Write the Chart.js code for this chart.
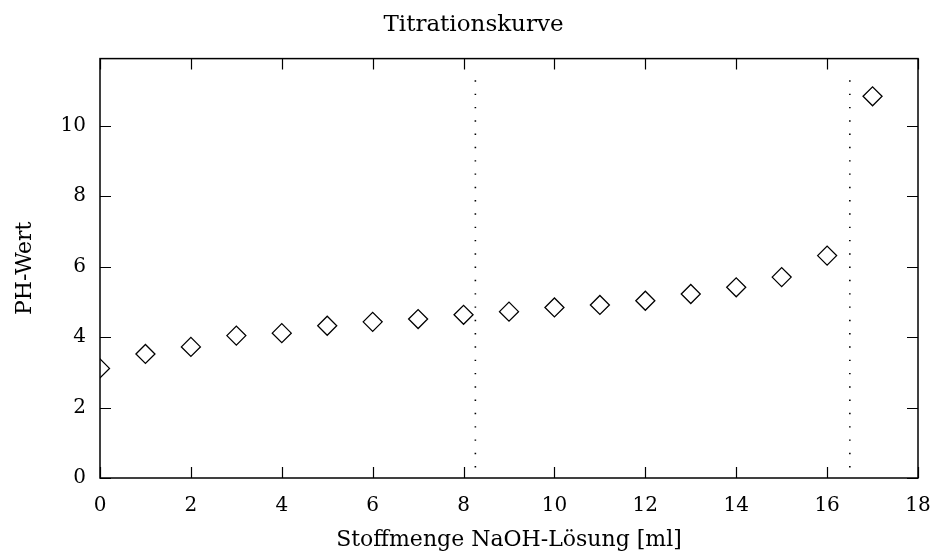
<!DOCTYPE html>
<html>
<head>
<meta charset="utf-8">
<script src="https://cdn.jsdelivr.net/npm/chart.js@4.4.0/dist/chart.umd.min.js"></script>
<style>
  html, body { margin: 0; padding: 0; background: #fff; }
  #wrap { width: 939px; height: 558px; }
</style>
</head>
<body>
<div id="wrap"><canvas id="myChart"></canvas></div>
<script>
// volume NaOH [ml] and measured pH
const volume = [0, 1, 2, 3, 4, 5, 6, 7, 8, 9, 10, 11, 12, 13, 14, 15, 16, 17];
const phValue = [3.11, 3.52, 3.72, 4.04, 4.11, 4.32, 4.43, 4.51, 4.63, 4.72, 4.84, 4.91, 5.03, 5.22, 5.41, 5.70, 6.31, 10.83];

// dotted marker lines (equivalence points)
const marker1X = [8.26, 8.26];
const marker2X = [16.5, 16.5];
const markerY = [0.3, 11.6];

const xTicks = [0, 2, 4, 6, 8, 10, 12, 14, 16, 18];
const yTicks = [0, 2, 4, 6, 8, 10];

const FONT = "'DejaVu Serif', serif";

function toPoints(xs, ys) {
  return xs.map((x, i) => ({x: x, y: ys[i]}));
}

// inner tick marks on all four sides + frame
const frameTicks = {
  id: 'frameTicks',
  afterDatasetsDraw(chart) {
    const ctx = chart.ctx;
    const a = chart.chartArea;
    const xs = chart.scales.x, ys = chart.scales.y;
    const len = 11;
    ctx.save();
    ctx.strokeStyle = '#000';
    ctx.lineWidth = 1.2;
    ctx.beginPath();
    xTicks.forEach(v => {
      const px = Math.round(xs.getPixelForValue(v)) + 0.5;
      ctx.moveTo(px, a.bottom); ctx.lineTo(px, a.bottom - len);
      ctx.moveTo(px, a.top); ctx.lineTo(px, a.top + len);
    });
    yTicks.forEach(v => {
      const py = Math.round(ys.getPixelForValue(v)) + 0.5;
      ctx.moveTo(a.left, py); ctx.lineTo(a.left + len, py);
      ctx.moveTo(a.right, py); ctx.lineTo(a.right - len, py);
    });
    ctx.stroke();
    ctx.lineWidth = 1.5;
    ctx.strokeRect(a.left, a.top, a.right - a.left, a.bottom - a.top);
    ctx.restore();
  }
};

const ctx = document.getElementById('myChart').getContext('2d');
new Chart(ctx, {
  type: 'scatter',
  data: {
    datasets: [{
      label: 'pH',
      data: toPoints(volume, phValue),
      pointStyle: 'rectRot',
      pointRadius: 9.5,
      pointBorderWidth: 1.3,
      pointBorderColor: '#000',
      pointBackgroundColor: 'rgba(0,0,0,0)',
      showLine: false
    }, {
      label: 'marker1',
      data: toPoints(marker1X, markerY),
      showLine: true,
      borderColor: '#000',
      borderWidth: 1.6,
      borderDash: [1.4, 11.9],
      pointRadius: 0
    }, {
      label: 'marker2',
      data: toPoints(marker2X, markerY),
      showLine: true,
      borderColor: '#000',
      borderWidth: 1.6,
      borderDash: [1.4, 11.9],
      pointRadius: 0
    }]
  },
  options: {
    responsive: true,
    maintainAspectRatio: false,
    animation: false,
    layout: { padding: { left: 8, right: 0, top: 0, bottom: 0 } },
    plugins: {
      legend: { display: false },
      tooltip: { enabled: false },
      title: {
        display: true,
        text: 'Titrationskurve',
        color: '#000',
        font: { family: FONT, size: 23, weight: 'normal' },
        padding: { top: 11, bottom: 20 }
      }
    },
    scales: {
      x: {
        type: 'linear',
        min: 0,
        max: 18,
        afterFit(s) { s.height = 80; s.paddingLeft = 0; s.paddingRight = 21; },
        afterBuildTicks(s) { s.ticks = xTicks.map(v => ({value: v})); },
        grid: { display: false, drawTicks: false },
        border: { display: false },
        ticks: { color: '#000', font: { family: FONT, size: 20 }, padding: 16, maxRotation: 0 },
        title: {
          display: true,
          text: 'Stoffmenge NaOH-Lösung [ml]',
          color: '#000',
          font: { family: FONT, size: 22 },
          padding: { top: 0, bottom: 5 }
        }
      },
      y: {
        type: 'linear',
        min: 0,
        max: 11.9,
        afterFit(s) { s.width = 92; },
        afterBuildTicks(s) { s.ticks = yTicks.map(v => ({value: v})); },
        grid: { display: false, drawTicks: false },
        border: { display: false },
        ticks: { color: '#000', font: { family: FONT, size: 20 }, padding: 14 },
        title: {
          display: true,
          text: 'PH-Wert',
          color: '#000',
          font: { family: FONT, size: 22 },
          padding: { bottom: 0 }
        }
      }
    }
  },
  plugins: [frameTicks]
});
</script>
</body>
</html>
